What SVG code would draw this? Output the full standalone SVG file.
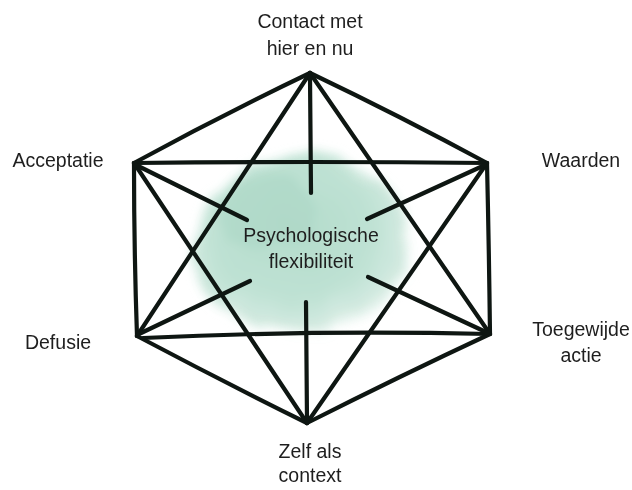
<svg xmlns="http://www.w3.org/2000/svg" width="632" height="490" viewBox="0 0 632 490">
<defs>
<style>
.edge{fill:none;stroke:#0e1612;stroke-width:4.2;stroke-linecap:round;stroke-linejoin:round}
.lbl{font-family:"Liberation Sans",Arial,sans-serif;font-size:19.5px;fill:#1e1e1e;text-anchor:middle}
</style>
<radialGradient id="g" cx="0.45" cy="0.42" r="0.6">
<stop offset="0" stop-color="#bfe2d4"/>
<stop offset="0.6" stop-color="#c9e7db"/>
<stop offset="0.85" stop-color="#dff0e9"/>
<stop offset="1" stop-color="#ffffff" stop-opacity="0"/>
</radialGradient>
<filter id="wc" x="-30%" y="-30%" width="160%" height="160%">
<feTurbulence type="fractalNoise" baseFrequency="0.02" numOctaves="3" seed="7" result="n"/>
<feDisplacementMap in="SourceGraphic" in2="n" scale="22" xChannelSelector="R" yChannelSelector="G" result="d"/>
<feGaussianBlur in="d" stdDeviation="5"/>
</filter>
</defs>
<rect width="632" height="490" fill="#ffffff"/>
<g id="blob" filter="url(#wc)">
<ellipse cx="303" cy="245" rx="110" ry="92" fill="url(#g)"/>
<ellipse cx="265" cy="212" rx="48" ry="38" fill="#b3dccb" opacity="0.5"/>
</g>
<g id="connectors">
<path class="edge" d="M134 163 Q220 116 310 73"/>
<path class="edge" d="M310 73 Q400 116 487 163"/>
<path class="edge" d="M487 163 Q489 250 490 334"/>
<path class="edge" d="M490 334 Q400 376 307 423"/>
<path class="edge" d="M307 423 Q220 380 137 336"/>
<path class="edge" d="M137 336 Q134 250 134 163"/>
<path class="edge" d="M134 163 Q310 161 487 163"/>
<path class="edge" d="M143 338 Q310 330 490 334"/>
<path class="edge" d="M310 73 L137 336"/>
<path class="edge" d="M310 73 L490 334"/>
<path class="edge" d="M134 163 L307 423"/>
<path class="edge" d="M487 163 L307 423"/>
<path class="edge" d="M310 76 L311 193"/>
<path class="edge" d="M307 421 L306 302"/>
<path class="edge" d="M136 165 L247 220"/>
<path class="edge" d="M488 333 L368 277"/>
<path class="edge" d="M485 165 L367 219"/>
<path class="edge" d="M139 334 L250 281"/>
</g>
<g id="blob-tint" style="mix-blend-mode:multiply" opacity="0.1" filter="url(#wc)">
<ellipse cx="303" cy="245" rx="104" ry="86" fill="#6fbf9f"/>
</g>
<g id="node-center">
<text class="lbl" x="311" y="242">Psychologische</text>
<text class="lbl" x="311" y="268">flexibiliteit</text>
</g>
<g id="node-contact">
<text class="lbl" x="310" y="28">Contact met</text>
<text class="lbl" x="310" y="55">hier en nu</text>
</g>
<g id="node-acceptatie">
<text class="lbl" x="58" y="167">Acceptatie</text>
</g>
<g id="node-waarden">
<text class="lbl" x="581" y="167">Waarden</text>
</g>
<g id="node-defusie">
<text class="lbl" x="58" y="349">Defusie</text>
</g>
<g id="node-toegewijde">
<text class="lbl" x="581" y="336">Toegewijde</text>
<text class="lbl" x="581" y="362">actie</text>
</g>
<g id="node-zelf">
<text class="lbl" x="310" y="458">Zelf als</text>
<text class="lbl" x="310" y="482">context</text>
</g>
</svg>
